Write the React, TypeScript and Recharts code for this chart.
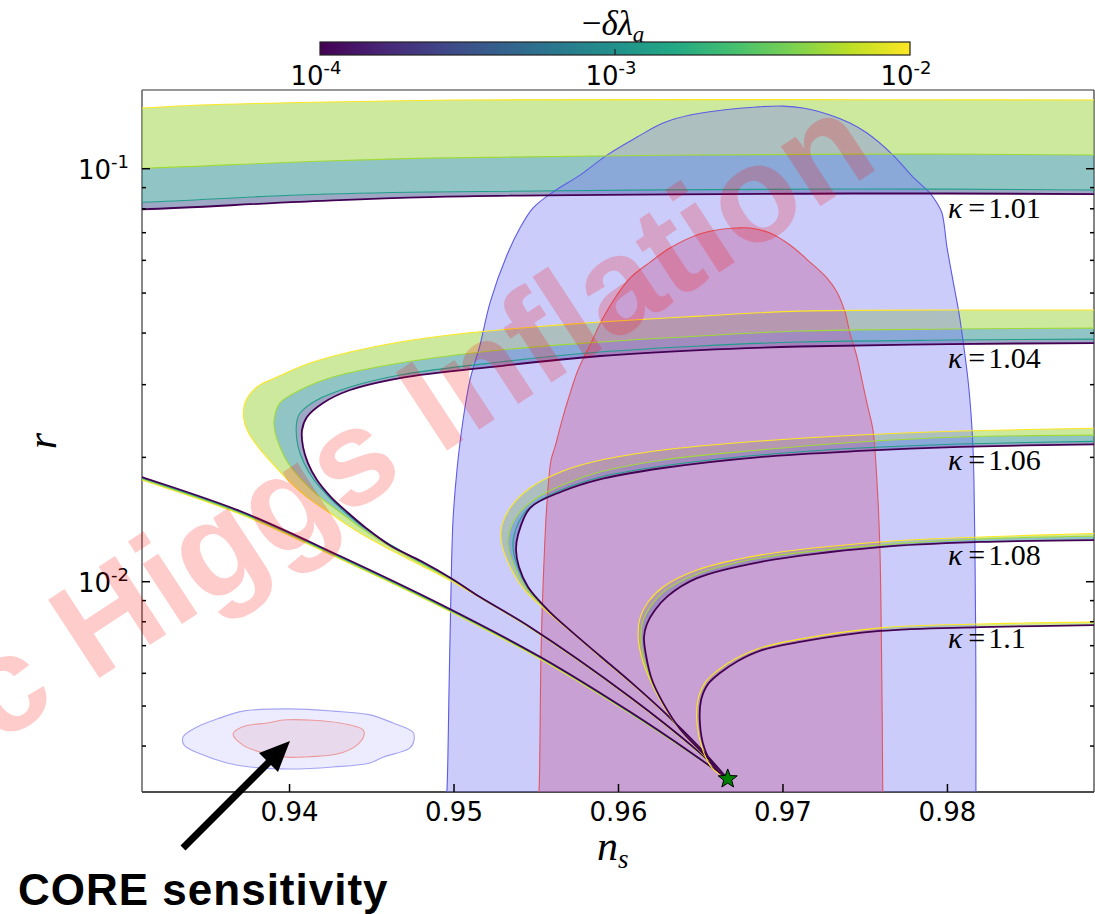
import React from "react";
import { ComposedChart, XAxis, YAxis, Scatter } from "recharts";

// axis limits
const NS_MIN = 0.93103;
const NS_MAX = 0.98891;
const R_MIN = 0.003096;
const R_MAX = 0.1551;

const nsTicks = [0.94, 0.95, 0.96, 0.97, 0.98];
const rTicks = [
  0.004, 0.005, 0.006, 0.007, 0.008, 0.009, 0.01, 0.02, 0.03, 0.04, 0.05,
  0.06, 0.07, 0.08, 0.09, 0.1,
];
const cbarExponents = ["-4", "-3", "-2"];

// -delta lambda_a levels drawn for every kappa (1e-2 ... 1e-4)
const lineColors = ["#fde725", "#a0da39", "#1f9e89", "#440154"];
const bandFills = ["#9bd33b", "#238b8b", "#3b528b"];

type Pt = [number, number];

const fiducial: Pt[] = [[0.96664, 0.00333]];

// Planck-like 2 sigma region (blue) and 1 sigma region (red)
const planckOuter: Pt[] = [
  [0.94951, 0.00296], [0.94957, 0.00313], [0.9497, 0.00556], [0.94982, 0.00971],
  [0.94994, 0.0141], [0.95018, 0.01864], [0.95055, 0.02463], [0.95097, 0.03079],
  [0.95158, 0.0374], [0.9522, 0.04755], [0.95322, 0.0618], [0.95401, 0.07185],
  [0.9548, 0.0803], [0.95602, 0.0878], [0.95766, 0.0965], [0.9593, 0.1079],
  [0.96113, 0.1193], [0.96271, 0.129], [0.96435, 0.1349], [0.96635, 0.1387],
  [0.96842, 0.1411], [0.97, 0.1418], [0.97122, 0.1403], [0.97286, 0.1349],
  [0.97407, 0.129], [0.97511, 0.122], [0.97669, 0.1079], [0.9779, 0.0955],
  [0.97894, 0.0873], [0.97936, 0.0826], [0.97967, 0.0781], [0.97997, 0.0646],
  [0.98033, 0.0538], [0.9807, 0.0447], [0.98094, 0.0385], [0.98125, 0.03079],
  [0.98143, 0.02562], [0.98155, 0.0212], [0.98161, 0.01763], [0.98167, 0.01213],
  [0.98173, 0.00578], [0.98173, 0.00296],
];
const planckInner: Pt[] = [
  [0.95511, 0.00296], [0.95517, 0.00313], [0.95529, 0.00672], [0.95541, 0.00971],
  [0.95565, 0.0155], [0.9559, 0.01971], [0.95614, 0.0212], [0.95657, 0.02463],
  [0.95693, 0.02754], [0.95754, 0.03255], [0.95827, 0.0374], [0.95906, 0.04351],
  [0.95991, 0.04945], [0.9607, 0.05436], [0.96192, 0.05942], [0.96313, 0.06427],
  [0.96477, 0.06911], [0.96599, 0.07106], [0.9672, 0.07185], [0.96799, 0.07185],
  [0.96921, 0.06988], [0.97043, 0.06536], [0.97164, 0.05942], [0.97268, 0.05436],
  [0.97328, 0.05029], [0.97377, 0.04498], [0.97407, 0.04001], [0.9745, 0.035],
  [0.9748, 0.03079], [0.97516, 0.02649], [0.97547, 0.0233], [0.97571, 0.01763],
  [0.97589, 0.01213], [0.97601, 0.00578], [0.97607, 0.00296],
];

// CORE forecast ellipses
const coreOuter: Pt[] = [
  [0.93353, 0.00421], [0.93438, 0.00445], [0.93578, 0.00468], [0.93717, 0.00486],
  [0.94003, 0.00492], [0.94264, 0.00486], [0.94489, 0.00476], [0.94629, 0.00455],
  [0.94751, 0.00432], [0.94757, 0.00414], [0.94733, 0.00396], [0.94568, 0.00376],
  [0.94489, 0.00364], [0.94264, 0.00356], [0.94003, 0.00352], [0.9376, 0.00356],
  [0.9362, 0.00364], [0.93456, 0.00383], [0.93359, 0.00402],
];
const coreInner: Pt[] = [
  [0.93657, 0.00428], [0.93711, 0.00445], [0.93863, 0.00455], [0.93985, 0.00463],
  [0.94307, 0.00455], [0.94447, 0.00438], [0.94453, 0.00425], [0.9441, 0.00402],
  [0.94295, 0.00383], [0.94064, 0.00376], [0.93985, 0.00376], [0.93821, 0.00387],
  [0.93717, 0.00402],
];

// kappa = 1.01 (nose lies left of the frame)
const k101c1: Pt[] = [
  [0.96664, 0.00333], [0.96435, 0.00385], [0.9607, 0.0048], [0.95523, 0.0065],
  [0.94915, 0.00871], [0.94307, 0.01135], [0.93699, 0.01458], [0.93103, 0.01763],
  [0.93, 0.01823], [0.925, 0.01823], [0.925, 0.1398], [0.93, 0.1398],
  [0.9346, 0.1426], [0.9406, 0.1446], [0.9498, 0.1467], [0.965, 0.147], [0.99, 0.1467],
];
const k101c2: Pt[] = [
  [0.96664, 0.00333], [0.96435, 0.00386], [0.9607, 0.00481], [0.95523, 0.00653],
  [0.94915, 0.00874], [0.94307, 0.0114], [0.93699, 0.01467], [0.93103, 0.01773],
  [0.93, 0.01833], [0.925, 0.01833], [0.925, 0.1], [0.93, 0.1],
  [0.9406, 0.1038], [0.9485, 0.1061], [0.9741, 0.1085], [0.99, 0.1079],
];
const k101c3: Pt[] = [
  [0.96664, 0.00333], [0.96435, 0.00386], [0.9607, 0.00482], [0.95523, 0.00655],
  [0.94915, 0.00878], [0.94307, 0.01147], [0.93699, 0.01475], [0.93103, 0.01783],
  [0.93, 0.01843], [0.925, 0.01843], [0.925, 0.0827], [0.93, 0.0827],
  [0.9406, 0.0864], [0.9485, 0.0878], [0.9741, 0.0893], [0.99, 0.0888],
];
const k101c4: Pt[] = [
  [0.96664, 0.00333], [0.96435, 0.00387], [0.9607, 0.00484], [0.95523, 0.00658],
  [0.94915, 0.00883], [0.94307, 0.01154], [0.93699, 0.01483], [0.93103, 0.01793],
  [0.93, 0.01853], [0.925, 0.01853], [0.925, 0.0795], [0.93, 0.0795],
  [0.9406, 0.0831], [0.9485, 0.0854], [0.9741, 0.0871], [0.99, 0.0868],
];

// kappa = 1.04
const k104c1: Pt[] = [
  [0.96664, 0.00333], [0.96477, 0.00389], [0.9607, 0.00523], [0.95462, 0.00772],
  [0.9517, 0.00908], [0.94994, 0.00998], [0.94793, 0.01098], [0.94581, 0.01213],
  [0.94398, 0.01334], [0.94246, 0.01467], [0.94106, 0.01603], [0.93991, 0.01763],
  [0.93894, 0.01938], [0.93809, 0.0212], [0.93748, 0.02304], [0.93723, 0.02463],
  [0.93729, 0.02709], [0.93802, 0.02961], [0.93924, 0.0313], [0.94125, 0.03384],
  [0.94368, 0.03598], [0.94672, 0.03805], [0.95079, 0.04], [0.9548, 0.04136],
  [0.95888, 0.04253], [0.96495, 0.04397], [0.97103, 0.04521], [0.98015, 0.04548],
  [0.99, 0.0455],
];
const k104c2: Pt[] = [
  [0.96664, 0.00333], [0.96477, 0.0039], [0.9607, 0.00525], [0.95462, 0.00775],
  [0.9517, 0.00911], [0.95, 0.01004], [0.94805, 0.01104], [0.94617, 0.01213],
  [0.94453, 0.01334], [0.94313, 0.01467], [0.94185, 0.01603], [0.94076, 0.01763],
  [0.93991, 0.01938], [0.93942, 0.0212], [0.93912, 0.02304], [0.93906, 0.02463],
  [0.93942, 0.02709], [0.94064, 0.02912], [0.94264, 0.0313], [0.94672, 0.03384],
  [0.9528, 0.03639], [0.95888, 0.03805], [0.96495, 0.03935], [0.97103, 0.04046],
  [0.98015, 0.04091], [0.99, 0.04114],
];
const k104c3: Pt[] = [
  [0.96664, 0.00333], [0.96477, 0.0039], [0.9607, 0.00525], [0.95462, 0.00776],
  [0.95164, 0.00916], [0.94988, 0.01015], [0.94799, 0.01116], [0.94617, 0.01227],
  [0.94465, 0.01341], [0.94343, 0.01467], [0.9424, 0.01603], [0.94149, 0.01763],
  [0.94088, 0.01938], [0.94052, 0.0212], [0.9404, 0.0233], [0.94046, 0.02463],
  [0.94064, 0.02562], [0.94167, 0.02754], [0.94368, 0.02961], [0.94672, 0.03166],
  [0.9528, 0.03404], [0.95888, 0.03598], [0.96495, 0.03722], [0.97103, 0.03805],
  [0.98015, 0.03847], [0.99, 0.03869],
];
const k104c4: Pt[] = [
  [0.96664, 0.00333], [0.96477, 0.00391], [0.9607, 0.00526], [0.95462, 0.00777],
  [0.95158, 0.00918], [0.94982, 0.0102], [0.94799, 0.01122], [0.94617, 0.0122],
  [0.94465, 0.01349], [0.9435, 0.01475], [0.94252, 0.01603], [0.94167, 0.01763],
  [0.94112, 0.01938], [0.94082, 0.0212], [0.94076, 0.0233], [0.94106, 0.02505],
  [0.94204, 0.02709], [0.94368, 0.02912], [0.94672, 0.03112], [0.9528, 0.03328],
  [0.95888, 0.0352], [0.96495, 0.03639], [0.97103, 0.03711], [0.98015, 0.03762],
  [0.99, 0.03784],
];

// kappa = 1.06
const k106c1: Pt[] = [
  [0.96664, 0.00333], [0.96495, 0.00396], [0.9629, 0.00476], [0.96089, 0.00562],
  [0.95888, 0.00657], [0.95705, 0.0076], [0.95541, 0.00864], [0.95419, 0.00966],
  [0.95322, 0.01129], [0.95286, 0.01262], [0.95292, 0.01372], [0.9534, 0.01508],
  [0.95462, 0.01686], [0.95663, 0.01854], [0.95869, 0.0196], [0.96271, 0.02084],
  [0.9686, 0.02191], [0.97468, 0.02266], [0.98076, 0.02317], [0.99, 0.02356],
];
const k106c2: Pt[] = [
  [0.96664, 0.00333], [0.96495, 0.00396], [0.9629, 0.00477], [0.96089, 0.00564],
  [0.95888, 0.00659], [0.95711, 0.0076], [0.95559, 0.00859], [0.95438, 0.00966],
  [0.95359, 0.0111], [0.95328, 0.01227], [0.9534, 0.01334], [0.95401, 0.01475],
  [0.95523, 0.01612], [0.95705, 0.01743], [0.95888, 0.01843], [0.96271, 0.01971],
  [0.9686, 0.02084], [0.97468, 0.02179], [0.98076, 0.02241], [0.99, 0.02266],
];
const k106c3: Pt[] = [
  [0.96664, 0.00333], [0.96495, 0.00396], [0.9629, 0.00478], [0.96089, 0.00565],
  [0.95888, 0.00661], [0.95717, 0.00756], [0.95571, 0.00854], [0.9545, 0.00966],
  [0.95383, 0.01098], [0.95359, 0.01207], [0.95365, 0.01298], [0.95432, 0.01475],
  [0.95584, 0.01621], [0.95869, 0.01783], [0.96271, 0.01906], [0.9686, 0.02026],
  [0.97468, 0.02107], [0.98076, 0.02155], [0.99, 0.02191],
];
const k106c4: Pt[] = [
  [0.96664, 0.00333], [0.96495, 0.00396], [0.9629, 0.00478], [0.96089, 0.00565],
  [0.95888, 0.00661], [0.95717, 0.00756], [0.95571, 0.00854], [0.9545, 0.00971],
  [0.95395, 0.01085], [0.95377, 0.01193], [0.95389, 0.01297], [0.95462, 0.01508],
  [0.95663, 0.01658], [0.95869, 0.01763], [0.96271, 0.01885], [0.9686, 0.02004],
  [0.97468, 0.02073], [0.98076, 0.0212], [0.99, 0.02155],
];

// kappa = 1.08
const k108c1: Pt[] = [
  [0.96664, 0.00333], [0.96495, 0.00389], [0.96374, 0.00438], [0.96271, 0.00503],
  [0.96192, 0.00578], [0.96137, 0.00665], [0.96119, 0.00743], [0.96131, 0.00817],
  [0.9618, 0.00893], [0.96271, 0.00971], [0.96477, 0.01067], [0.9686, 0.0116],
  [0.9759, 0.01248], [0.98198, 0.01283], [0.99, 0.01312],
];
const k108c2: Pt[] = [
  [0.96664, 0.00333], [0.96495, 0.0039], [0.96374, 0.00439], [0.96271, 0.00506],
  [0.96198, 0.00578], [0.96149, 0.00665], [0.96137, 0.00739], [0.96149, 0.00804],
  [0.96198, 0.00874], [0.96283, 0.0095], [0.96477, 0.01043], [0.9686, 0.01141],
  [0.9759, 0.01227], [0.98198, 0.01269], [0.99, 0.0129],
];
const k108c4: Pt[] = [
  [0.96664, 0.00333], [0.96495, 0.00391], [0.96374, 0.0044], [0.96271, 0.00509],
  [0.96204, 0.00578], [0.96167, 0.00665], [0.96155, 0.00735], [0.96173, 0.0079],
  [0.96222, 0.00854], [0.96301, 0.00924], [0.96477, 0.0102], [0.9686, 0.01116],
  [0.9759, 0.01213], [0.98198, 0.01248], [0.99, 0.01262],
];

// kappa = 1.1
const k110c1: Pt[] = [
  [0.96664, 0.00333], [0.96568, 0.00354], [0.96508, 0.00396], [0.96477, 0.00455],
  [0.96483, 0.00517], [0.96526, 0.00569], [0.96599, 0.00608], [0.96708, 0.0065],
  [0.9686, 0.00691], [0.97103, 0.00726], [0.9759, 0.00773], [0.98198, 0.0079],
  [0.99, 0.00799],
];
const k110c4: Pt[] = [
  [0.96664, 0.00333], [0.96581, 0.00356], [0.9652, 0.00398], [0.96495, 0.00455],
  [0.96502, 0.00517], [0.96544, 0.00565], [0.96617, 0.00601], [0.96726, 0.00643],
  [0.96872, 0.00683], [0.97103, 0.00715], [0.9759, 0.0076], [0.98198, 0.00776],
  [0.99, 0.00786],
];

const kappaNames = ["1.01", "1.04", "1.06", "1.08", "1.1"];
const kappaCurves: Pt[][][] = [
  [k101c1, k101c2, k101c3, k101c4],
  [k104c1, k104c2, k104c3, k104c4],
  [k106c1, k106c2, k106c3, k106c4],
  [k108c1, k108c2, k108c4],
  [k110c1, k110c4],
];
const kappaLevels: number[][] = [
  [0, 1, 2, 3],
  [0, 1, 2, 3],
  [0, 1, 2, 3],
  [0, 1, 3],
  [0, 3],
];
const kappaLabelNs = [0.98003, 0.98003, 0.98003, 0.98003, 0.98003];
const kappaLabelR = [0.076, 0.0329, 0.01864, 0.01097, 0.00691];

type XY = { x: number; y: number };
const rows = (pts: Pt[]) => pts.map(([x, y]) => ({ x, y }));

// centripetal Catmull-Rom segment p1 -> p2, as a cubic Bezier
function segment(p0: XY, p1: XY, p2: XY, p3: XY): string {
  const d01 = Math.hypot(p1.x - p0.x, p1.y - p0.y);
  const d12 = Math.hypot(p2.x - p1.x, p2.y - p1.y);
  const d23 = Math.hypot(p3.x - p2.x, p3.y - p2.y);
  const a01 = Math.sqrt(d01);
  const a12 = Math.sqrt(d12);
  const a23 = Math.sqrt(d23);
  let c1x = p1.x;
  let c1y = p1.y;
  let c2x = p2.x;
  let c2y = p2.y;
  if (a01 > 1e-6) {
    const a = 2 * d01 + 3 * a01 * a12 + d12;
    const n = 3 * a01 * (a01 + a12);
    c1x = (p1.x * a - p0.x * d12 + p2.x * d01) / n;
    c1y = (p1.y * a - p0.y * d12 + p2.y * d01) / n;
  }
  if (a23 > 1e-6) {
    const b = 2 * d23 + 3 * a23 * a12 + d12;
    const m = 3 * a23 * (a23 + a12);
    c2x = (p2.x * b + p1.x * d23 - p3.x * d12) / m;
    c2y = (p2.y * b + p1.y * d23 - p3.y * d12) / m;
  }
  return ` C${c1x},${c1y} ${c2x},${c2y} ${p2.x},${p2.y}`;
}

function pathThrough(pts: XY[]): string {
  if (!pts.length) return "";
  let d = `M${pts[0].x},${pts[0].y}`;
  for (let i = 0; i < pts.length - 1; i++) {
    const p0 = pts[i > 0 ? i - 1 : i];
    const p3 = pts[i + 2 < pts.length ? i + 2 : i + 1];
    d += segment(p0, pts[i], pts[i + 1], p3);
  }
  return d;
}

function closedPath(pts: XY[]): string {
  const n = pts.length;
  let d = `M${pts[0].x},${pts[0].y}`;
  for (let i = 0; i < n; i++) {
    d += segment(pts[(i - 1 + n) % n], pts[i], pts[(i + 1) % n], pts[(i + 2) % n]);
  }
  return d + " Z";
}

const noDot = () => <g />;

const bandShape = (split: number, fill: string) => (props: any) => {
  const pts: XY[] = props.points;
  const a = pathThrough(pts.slice(0, split));
  const b = pathThrough(pts.slice(split)).replace(/^M/, "L");
  return <path d={`${a} ${b} Z`} fill={fill} fillOpacity={0.5} stroke="none" />;
};

const curveShape = (stroke: string, width: number) => (props: any) => (
  <path d={pathThrough(props.points)} fill="none" stroke={stroke} strokeWidth={width} />
);

const regionShape = (fill: string, opacity: number, stroke: string, smooth: boolean) => (props: any) => (
  <path
    d={smooth ? closedPath(props.points) : pathThrough(props.points) + " Z"}
    fill={fill}
    fillOpacity={opacity}
    stroke={stroke}
    strokeWidth={1.1}
  />
);

const StarShape = (props: any) => {
  const { cx, cy } = props;
  const pts: string[] = [];
  for (let i = 0; i < 10; i++) {
    const a = -Math.PI / 2 + (i * Math.PI) / 5;
    const rad = i % 2 === 0 ? 10 : 4.2;
    pts.push(`${cx + rad * Math.cos(a)},${cy + rad * Math.sin(a)}`);
  }
  return <polygon points={pts.join(" ")} fill="#008000" stroke="#000" strokeWidth={1} />;
};

const KappaLabel = (props: any) => (
  <text x={props.cx} y={props.cy} fontFamily="Liberation Serif" fontSize={30} fill="#000">
    <tspan fontStyle="italic">κ</tspan>
    <tspan dx={6}>=</tspan>
    <tspan dx={3}>{props.payload.k}</tspan>
  </text>
);

const isMajor = (v: number) => Math.abs(Math.log10(v) - Math.round(Math.log10(v))) < 1e-6;

const BottomTick = (props: any) => {
  const { x, y, payload } = props;
  return (
    <g>
      <line x1={x} y1={y} x2={x} y2={y - 8} stroke="#000" strokeWidth={1.5} />
      <text x={x} y={y + 29} textAnchor="middle" fontFamily="DejaVu Sans" fontSize={26} fill="#000">
        {payload.value.toFixed(2)}
      </text>
    </g>
  );
};

const TopTick = (props: any) => {
  const { x, y } = props;
  return <line x1={x} y1={y} x2={x} y2={y + 8} stroke="#000" strokeWidth={1.5} />;
};

const LeftTick = (props: any) => {
  const { x, y, payload } = props;
  const major = isMajor(payload.value);
  return (
    <g>
      <line x1={x} y1={y} x2={x + (major ? 8 : 4)} y2={y} stroke="#000" strokeWidth={1.5} />
      {major && (
        <text x={x - 13} y={y + 10} textAnchor="end" fontFamily="DejaVu Sans" fontSize={26} fill="#000">
          10
          <tspan dy={-11} fontSize={18}>
            {String(Math.round(Math.log10(payload.value)))}
          </tspan>
        </text>
      )}
    </g>
  );
};

const RightTick = (props: any) => {
  const { x, y, payload } = props;
  const major = isMajor(payload.value);
  return <line x1={x} y1={y} x2={x - (major ? 8 : 4)} y2={y} stroke="#000" strokeWidth={1.5} />;
};

const viridis = [
  "#440154", "#482475", "#414487", "#355f8d", "#2a788e", "#21918c",
  "#22a884", "#44bf70", "#7ad151", "#bddf26", "#fde725",
];

const App = () => {
  const bandItems: React.ReactNode[] = [];
  const lineItems: React.ReactNode[] = [];
  kappaCurves.forEach((curves, k) => {
    const levels = kappaLevels[k];
    for (let i = 0; i < curves.length - 1; i++) {
      const outer = curves[i];
      const inner = curves[i + 1].slice().reverse();
      bandItems.push(
        <Scatter
          key={`band-${k}-${i}`}
          data={rows(outer.concat(inner))}
          line={bandShape(outer.length, bandFills[levels[i]])}
          shape={noDot}
          isAnimationActive={false}
          legendType="none"
        />
      );
    }
    curves.forEach((c, i) => {
      const lvl = levels[i];
      lineItems.push(
        <Scatter
          key={`line-${k}-${i}`}
          data={rows(c)}
          line={curveShape(lineColors[lvl], lvl === 3 ? 1.8 : 1.1)}
          shape={noDot}
          isAnimationActive={false}
          legendType="none"
        />
      );
    });
  });

  const labelRows = kappaNames.map((k, i) => ({ x: kappaLabelNs[i], y: kappaLabelR[i], k }));

  return (
    <div style={{ position: "absolute", left: 0, top: 0, width: 1095, height: 914, background: "#fff" }}>
      <ComposedChart width={1095} height={914} margin={{ top: 89, right: 0, bottom: 121, left: 141 }}>
        <XAxis
          type="number"
          dataKey="x"
          domain={[NS_MIN, NS_MAX]}
          allowDataOverflow
          ticks={nsTicks}
          interval={0}
          tickSize={0}
          tickMargin={0}
          tickLine={false}
          tick={BottomTick}
          height={1}
          axisLine={{ stroke: "#111", strokeWidth: 1.4 }}
        />
        <XAxis
          xAxisId="top"
          orientation="top"
          type="number"
          domain={[NS_MIN, NS_MAX]}
          allowDataOverflow
          ticks={nsTicks}
          interval={0}
          tickSize={0}
          tickMargin={0}
          tickLine={false}
          tick={TopTick}
          height={1}
          axisLine={{ stroke: "#333", strokeWidth: 1.2 }}
        />
        <YAxis
          type="number"
          dataKey="y"
          scale="log"
          domain={[R_MIN, R_MAX]}
          allowDataOverflow
          ticks={rTicks}
          interval={0}
          tickSize={0}
          tickMargin={0}
          tickLine={false}
          tick={LeftTick}
          width={1}
          axisLine={{ stroke: "#555", strokeWidth: 1.4 }}
        />
        <YAxis
          yAxisId="right"
          orientation="right"
          type="number"
          scale="log"
          domain={[R_MIN, R_MAX]}
          allowDataOverflow
          ticks={rTicks}
          interval={0}
          tickSize={0}
          tickMargin={0}
          tickLine={false}
          tick={RightTick}
          width={1}
          axisLine={{ stroke: "#333", strokeWidth: 1.2 }}
        />

        {bandItems}

        <Scatter
          data={rows(planckOuter)}
          line={regionShape("#8080f5", 0.4, "#5c5ce6", false)}
          shape={noDot}
          isAnimationActive={false}
          legendType="none"
        />
        <Scatter
          data={rows(planckInner)}
          line={regionShape("#c65f9b", 0.4, "#e05560", false)}
          shape={noDot}
          isAnimationActive={false}
          legendType="none"
        />

        {lineItems}

        <Scatter
          data={rows(coreOuter)}
          line={regionShape("#8080f5", 0.15, "#a4a4f2", true)}
          shape={noDot}
          isAnimationActive={false}
          legendType="none"
        />
        <Scatter
          data={rows(coreInner)}
          line={regionShape("#e0708a", 0.15, "#ec9a9a", true)}
          shape={noDot}
          isAnimationActive={false}
          legendType="none"
        />
        <Scatter data={rows(fiducial)} shape={StarShape} isAnimationActive={false} legendType="none" />
        <Scatter data={labelRows} shape={KappaLabel} isAnimationActive={false} legendType="none" />
      </ComposedChart>

      <svg
        width={1095}
        height={914}
        style={{ position: "absolute", left: 0, top: 0, pointerEvents: "none" }}
      >
        <defs>
          <linearGradient id="viridis" x1="0" x2="1" y1="0" y2="0">
            {viridis.map((c, i) => (
              <stop key={c} offset={i / (viridis.length - 1)} stopColor={c} />
            ))}
          </linearGradient>
        </defs>
        {/* colour bar */}
        <text x={613} y={35} textAnchor="middle" fontFamily="Liberation Serif" fontSize={35} fill="#000">
          −<tspan fontStyle="italic">δλ</tspan>
          <tspan dy={7} fontSize={23} fontStyle="italic">a</tspan>
        </text>
        <rect x={320} y={42} width={590} height={13} fill="url(#viridis)" stroke="#222" strokeWidth={1.2} />
        <line x1={615} y1={49} x2={615} y2={55} stroke="#222" strokeWidth={1.2} />
        {cbarExponents.map((e, i) => (
          <text
            key={e}
            x={[316, 611, 906][i]}
            y={85}
            textAnchor="middle"
            fontFamily="DejaVu Sans"
            fontSize={26}
            fill="#000"
          >
            10<tspan dy={-11} fontSize={18}>{e}</tspan>
          </text>
        ))}

        {/* axis titles */}
        <text x={597} y={860} fontFamily="Liberation Serif" fontStyle="italic" fontSize={42} fill="#000">
          n<tspan dy={8} fontSize={27}>s</tspan>
        </text>
        <text
          transform="translate(56,441) rotate(-90)"
          textAnchor="middle"
          fontFamily="Liberation Serif"
          fontStyle="italic"
          fontSize={42}
          fill="#000"
        >
          r
        </text>

        {/* CORE annotation */}
        <line x1={183} y1={848} x2={271} y2={760} stroke="#000" strokeWidth={7} />
        <polygon points="290,741 259,753 278,772" fill="#000" />
        <text x={18} y={905} fontFamily="Liberation Sans" fontWeight="bold" fontSize={44} letterSpacing={1} fill="#000">
          CORE sensitivity
        </text>

        {/* watermark */}
        <text
          x={882}
          y={166}
          textAnchor="end"
          transform="rotate(-33.2 882 166)"
          fontFamily="Liberation Sans"
          fontWeight="bold"
          fontSize={136}
          fill="#ff0000"
          fillOpacity={0.2}
        >
          c Higgs Inflation
        </text>
      </svg>
    </div>
  );
};

export default App;
